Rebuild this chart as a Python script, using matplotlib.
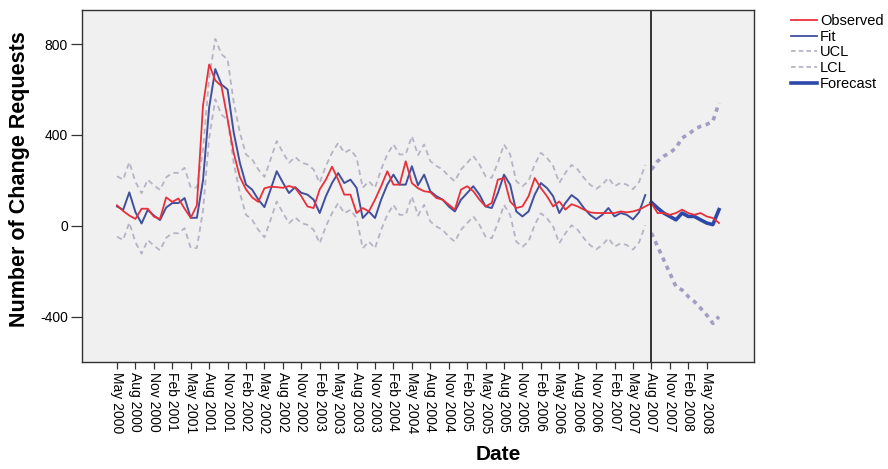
import matplotlib
matplotlib.use("Agg")
import matplotlib.pyplot as plt
from matplotlib.lines import Line2D
import numpy as np

plt.rcParams['font.family'] = ['Liberation Sans', 'DejaVu Sans']

# Monthly series, May 2000 onward (index 0 = May 2000)
observed = [90, 65, 45, 30, 75, 75, 40, 30, 125, 105, 120, 75, 35, 90, 530, 710, 640, 615, 470, 320,
            215, 160, 125, 105, 165, 172, 170, 167, 175, 167, 130, 85, 78, 160, 203, 260, 203, 137, 137, 56,
            78, 63, 115, 174, 240, 181, 181, 284, 188, 165, 152, 148, 122, 115, 93, 71, 159, 174, 152, 115,
            85, 100, 203, 210, 107, 78, 85, 130, 210, 166, 130, 85, 107, 71, 95, 85, 71, 59, 56, 56,
            56, 56, 63, 59, 63, 71, 85, 99, 56, 56, 48, 56, 71, 56, 48, 56, 41, 34, 12]

fit = [85, 70, 147, 60, 10, 70, 45, 25, 80, 100, 100, 122, 35, 35, 200, 520, 690, 622, 600, 410,
       277, 181, 159, 115, 82, 159, 240, 190, 144, 170, 145, 137, 115, 56, 130, 188, 232, 188, 203, 167,
       34, 63, 34, 115, 181, 225, 181, 181, 262, 178, 225, 152, 130, 115, 85, 63, 115, 144, 174, 137,
       85, 78, 144, 225, 181, 63, 41, 63, 137, 188, 166, 130, 56, 100, 135, 115, 78, 48, 29, 48,
       78, 41, 56, 48, 28, 60, 135]

ucl = [218, 203, 280, 193, 143, 203, 178, 158, 213, 233, 233, 255, 168, 168, 333, 653, 823, 755, 733, 543,
       410, 314, 292, 248, 215, 292, 373, 323, 277, 303, 278, 270, 248, 189, 263, 321, 365, 321, 336, 300,
       167, 196, 167, 248, 314, 358, 314, 314, 395, 311, 358, 285, 263, 248, 218, 196, 248, 277, 307, 270,
       218, 211, 277, 358, 314, 196, 174, 196, 270, 321, 299, 263, 189, 233, 268, 248, 211, 181, 162, 181,
       211, 174, 189, 181, 161, 193, 268]

lcl = [-48, -63, 14, -73, -123, -63, -88, -108, -53, -33, -33, -11, -98, -98, 67, 387, 557, 489, 467, 277,
       144, 48, 26, -18, -51, 26, 107, 57, 11, 37, 12, 4, -18, -77, -3, 55, 99, 55, 70, 34,
       -99, -70, -99, -18, 48, 92, 48, 48, 129, 45, 92, 19, -3, -18, -48, -70, -18, 11, 41, 4,
       -48, -55, 11, 92, 48, -70, -92, -70, 4, 55, 33, -3, -77, -33, 2, -18, -55, -85, -104, -85,
       -55, -92, -77, -85, -105, -73, 2]

# Forecast period, Aug 2007 onward
forecast = [103, 78, 56, 41, 26, 56, 41, 41, 26, 12, 5, 71]
forecast_ucl = [247, 284, 306, 321, 343, 387, 402, 424, 438, 446, 460, 541]
forecast_lcl = [-32, -91, -150, -209, -268, -283, -312, -334, -363, -393, -430, -400]

tick_labels = ["May 2000", "Aug 2000", "Nov 2000", "Feb 2001", "May 2001", "Aug 2001", "Nov 2001",
               "Feb 2002", "May 2002", "Aug 2002", "Nov 2002", "Feb 2003", "May 2003", "Aug 2003",
               "Nov 2003", "Feb 2004", "May 2004", "Aug 2004", "Nov 2004", "Feb 2005", "May 2005",
               "Aug 2005", "Nov 2005", "Feb 2006", "May 2006", "Aug 2006", "Nov 2006", "Feb 2007",
               "May 2007", "Aug 2007", "Nov 2007", "Feb 2008", "May 2008"]

forecast_start_label = "Aug 2007"

x_obs = np.arange(len(observed))
x_fit = np.arange(len(fit))
x_fc = np.arange(len(fit), len(fit) + len(forecast))
x_ticks = np.arange(len(tick_labels)) * 3
forecast_start = x_ticks[tick_labels.index(forecast_start_label)]

red = "#e8303a"
blue = "#40509c"
cl_grey = "#b6b4c4"
fc_blue = "#2c48a8"
fc_cl = "#a49cc2"
dash = (0, (3, 2.2))

fig = plt.figure(figsize=(8.88, 4.69), dpi=100)
ax = fig.add_axes([82 / 888, 1 - 362 / 469, (754 - 82) / 888, (362 - 10) / 469])
ax.set_facecolor("#f0f0f0")

ax.plot(x_fit, ucl, color=cl_grey, lw=1.3, ls=dash, zorder=2)
ax.plot(x_fit, lcl, color=cl_grey, lw=1.3, ls=dash, zorder=2)
ax.plot(x_fc, forecast_ucl, color=fc_cl, lw=2.6, ls=(0, (1.2, 1.3)), zorder=2)
ax.plot(x_fc, forecast_lcl, color=fc_cl, lw=2.6, ls=(0, (1.2, 1.3)), zorder=2)
ax.plot(x_fit, fit, color=blue, lw=1.4, zorder=3)
ax.plot(x_fc, forecast, color=fc_blue, lw=2.6, zorder=3)
ax.plot(x_obs, observed, color=red, lw=1.3, zorder=4)

ax.axvline(forecast_start, color="#333333", lw=1.4, zorder=5)

ax.set_xlim(-5.7, 103.7)
ax.set_ylim(-600, 950)
ax.set_yticks([-400, 0, 400, 800])
ax.set_yticklabels(["-400", "0", "400", "800"], fontsize=10)
ax.set_xticks(x_ticks)
ax.set_xticklabels(tick_labels, rotation=-90, fontsize=10, va="top", ha="center")
ax.tick_params(axis="x", direction="out", length=5, width=0.9, color="#333333", pad=2)
ax.tick_params(axis="y", direction="out", length=8, width=0.9, color="#333333", pad=2)

for s in ax.spines.values():
    s.set_color("#333333")
    s.set_linewidth(1.0)

ax.set_ylabel("Number of Change Requests", fontsize=15.5, fontweight="bold")
ax.yaxis.set_label_coords(-0.077, 0.52)
ax.set_xlabel("Date", fontsize=15, fontweight="bold")
ax.xaxis.set_label_coords(0.619, -0.236)

handles = [
    Line2D([], [], color=red, lw=1.3),
    Line2D([], [], color=blue, lw=1.3),
    Line2D([], [], color=cl_grey, lw=1.3, ls=(0, (2.5, 1.8))),
    Line2D([], [], color=cl_grey, lw=1.3, ls=(0, (2.5, 1.8))),
    Line2D([], [], color=fc_blue, lw=2.6),
]
fig.legend(handles, ["Observed", "Fit", "UCL", "LCL", "Forecast"],
           loc="upper left", bbox_to_anchor=(791 / 888, 1 - 14 / 469),
           frameon=False, fontsize=10.5, handlelength=1.75, handletextpad=0.25,
           labelspacing=0.12, borderaxespad=0, borderpad=0)

fig.savefig("out.png", dpi=100, facecolor="white")
